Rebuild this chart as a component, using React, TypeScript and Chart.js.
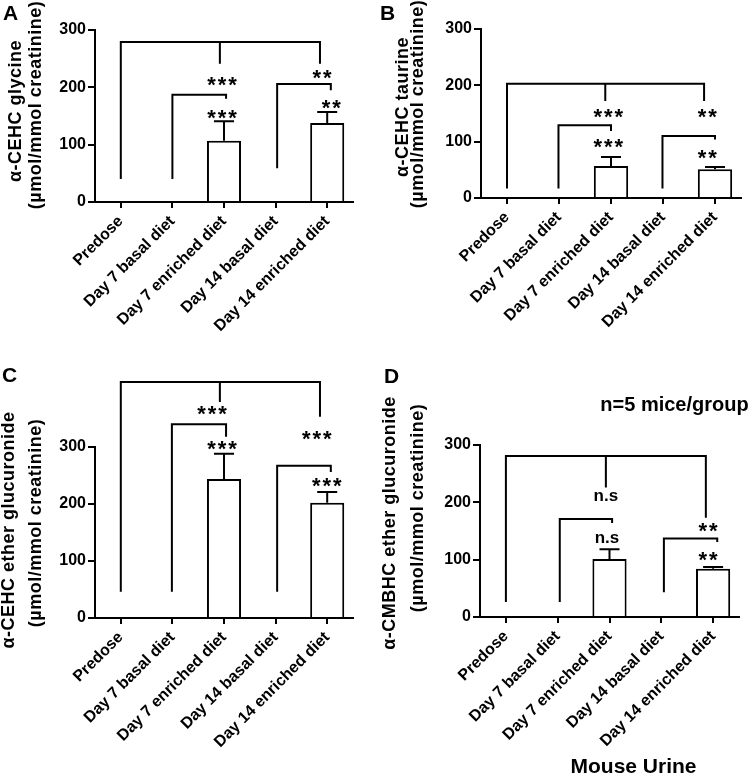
import React, { useEffect, useRef } from 'react';
import { Chart, registerables } from 'chart.js';
Chart.register(...registerables);

const FONT = "'Liberation Sans', Arial, sans-serif";

const categories = ['Predose', 'Day 7 basal diet', 'Day 7 enriched diet', 'Day 14 basal diet', 'Day 14 enriched diet'];
const yTicks = [0, 100, 200, 300];

const valuesA = [0, 0, 107, 0, 138];
const semA = [0, 0, 34, 0, 19];
const valuesB = [0, 0, 57, 0, 51];
const semB = [0, 0, 16, 0, 4];
const valuesC = [0, 0, 244, 0, 202];
const semC = [0, 0, 44, 0, 19];
const valuesD = [0, 0, 101, 0, 84];
const semD = [0, 0, 17, 0, 3];

// brackets: top value, leg positions (category index) and leg bottom values
const bracketsA = [
  { top: 279, legX: [0, 1.92, 3.86], legEnd: [40, 241, 241] },
  { top: 187, legX: [1, 2.04], legEnd: [40, 180] },
  { top: 206, legX: [3.03, 4.07], legEnd: [59, 195] },
];
const bracketsB = [
  { top: 203, legX: [0, 1.89, 3.79], legEnd: [17, 172, 172] },
  { top: 129, legX: [0.99, 2.0], legEnd: [17, 119] },
  { top: 110, legX: [2.99, 4.0], legEnd: [17, 104] },
];
const bracketsC = [
  { top: 414, legX: [0, 1.92, 3.86], legEnd: [46, 379, 353] },
  { top: 340, legX: [0.99, 2.04], legEnd: [46, 318] },
  { top: 267, legX: [3.03, 4.07], legEnd: [46, 256] },
];
const bracketsD = [
  { top: 281, legX: [0, 1.93, 3.86], legEnd: [26, 226, 173] },
  { top: 171, legX: [1.04, 2.05], legEnd: [26, 164] },
  { top: 137, legX: [3.05, 4.08], legEnd: [43, 131] },
];

// significance labels: category index, value, text
const notesA = [
  { x: 1.96, y: 214, text: '***' },
  { x: 3.9, y: 227, text: '**' },
  { x: 1.96, y: 156, text: '***' },
  { x: 4.08, y: 174, text: '**' },
];
const notesB = [
  { x: 1.95, y: 154, text: '***' },
  { x: 3.85, y: 154, text: '**' },
  { x: 1.95, y: 101, text: '***' },
  { x: 3.85, y: 81, text: '**' },
];
const notesC = [
  { x: 1.77, y: 368, text: '***' },
  { x: 3.8, y: 324, text: '***' },
  { x: 1.96, y: 307, text: '***' },
  { x: 3.99, y: 241, text: '***' },
];
const notesD = [
  { x: 1.93, y: 210, text: 'n.s' },
  { x: 3.9, y: 160, text: '**' },
  { x: 1.95, y: 137, text: 'n.s' },
  { x: 3.9, y: 109, text: '**' },
];

const unitLine = '(µmol/mmol creatinine)';

const panels = [
  {
    key: 'A', left: 0, top: 0, w: 377, h: 345,
    chartLeft: 95, chartRight: 353, chartTop: 30, chartBottom: 202,
    letterX: 3, letterY: 20,
    title: ['α-CEHC glycine', unitLine], titleBase: [21, 41], titleCenter: [111, 105],
    values: valuesA, sem: semA, brackets: bracketsA, notes: notesA, extras: [],
  },
  {
    key: 'B', left: 377, top: 0, w: 377, h: 345,
    chartLeft: 104, chartRight: 364, chartTop: 29, chartBottom: 198,
    letterX: 3, letterY: 20,
    title: ['α-CEHC taurine', unitLine], titleBase: [31, 46], titleCenter: [107, 104],
    values: valuesB, sem: semB, brackets: bracketsB, notes: notesB, extras: [],
  },
  {
    key: 'C', left: 0, top: 345, w: 377, h: 429,
    chartLeft: 95, chartRight: 353, chartTop: 102, chartBottom: 273,
    letterX: 2, letterY: 37,
    title: ['α-CEHC ether glucuronide', unitLine], titleBase: [14, 41], titleCenter: [185, 178],
    values: valuesC, sem: semC, brackets: bracketsC, notes: notesC, extras: [],
  },
  {
    key: 'D', left: 377, top: 345, w: 377, h: 429,
    chartLeft: 103, chartRight: 362, chartTop: 100, chartBottom: 272,
    letterX: 7, letterY: 38,
    title: ['α-CMBHC ether glucuronide', unitLine], titleBase: [18, 46], titleCenter: [178, 163],
    values: valuesD, sem: semD, brackets: bracketsD, notes: notesD,
    extras: [
      { text: 'n=5 mice/group', x: 297.5, y: 66, size: 20 },
      { text: 'Mouse Urine', x: 256.5, y: 428, size: 21 },
    ],
  },
];

function makeOverlay(p: any) {
  return {
    id: 'overlay' + p.key,
    afterDraw(chart: any) {
      const { ctx } = chart;
      const x = chart.scales.x;
      const y = chart.scales.y;
      ctx.save();
      ctx.strokeStyle = '#000';
      ctx.fillStyle = '#000';
      ctx.lineWidth = 2;
      ctx.lineJoin = 'miter';
      ctx.lineCap = 'butt';
      // error bars
      p.values.forEach((v: number, i: number) => {
        const e = p.sem[i];
        if (!e) return;
        const px = x.getPixelForValue(i);
        const y0 = y.getPixelForValue(v);
        const y1 = y.getPixelForValue(v + e);
        ctx.beginPath();
        ctx.moveTo(px, y0);
        ctx.lineTo(px, y1);
        ctx.moveTo(px - 10, y1);
        ctx.lineTo(px + 10, y1);
        ctx.stroke();
      });
      // brackets
      p.brackets.forEach((b: any) => {
        const yt = y.getPixelForValue(b.top);
        const xs = b.legX.map((l: number) => x.getPixelForValue(l));
        const n = xs.length;
        ctx.beginPath();
        ctx.moveTo(xs[0], y.getPixelForValue(b.legEnd[0]));
        ctx.lineTo(xs[0], yt);
        ctx.lineTo(xs[n - 1], yt);
        ctx.lineTo(xs[n - 1], y.getPixelForValue(b.legEnd[n - 1]));
        for (let k = 1; k < n - 1; k++) {
          ctx.moveTo(xs[k], yt);
          ctx.lineTo(xs[k], y.getPixelForValue(b.legEnd[k]));
        }
        ctx.stroke();
      });
      // notes
      p.notes.forEach((nt: any) => {
        const cx = x.getPixelForValue(nt.x);
        const cy = y.getPixelForValue(nt.y);
        ctx.textAlign = 'center';
        ctx.textBaseline = 'alphabetic';
        if (/^\*+$/.test(nt.text)) {
          const size = 22;
          ctx.font = `bold ${size}px ${FONT}`;
          const pitch = 10.5;
          const cnt = nt.text.length;
          for (let k = 0; k < cnt; k++) {
            ctx.fillText('*', cx + (k - (cnt - 1) / 2) * pitch, cy + 0.575 * size);
          }
        } else {
          const size = 17;
          ctx.font = `bold ${size}px ${FONT}`;
          ctx.fillText(nt.text, cx, cy + 0.27 * size);
        }
      });
      // panel letter
      ctx.textAlign = 'left';
      ctx.textBaseline = 'alphabetic';
      ctx.font = `bold 21px ${FONT}`;
      ctx.fillText(p.key, p.letterX, p.letterY);
      // extras
      p.extras.forEach((ex: any) => {
        ctx.textAlign = 'center';
        ctx.font = `bold ${ex.size}px ${FONT}`;
        ctx.fillText(ex.text, ex.x, ex.y);
      });
      // y title
      ctx.font = `bold 18px ${FONT}`;
      (ctx as any).letterSpacing = '0.5px';
      p.title.forEach((line: string, k: number) => {
        ctx.save();
        ctx.translate(p.titleBase[k], p.titleCenter[k]);
        ctx.rotate(-Math.PI / 2);
        ctx.textAlign = 'center';
        ctx.textBaseline = 'alphabetic';
        ctx.fillText(line, 0, 0);
        ctx.restore();
      });
      (ctx as any).letterSpacing = '0px';
      ctx.restore();
    },
  };
}

function Panel({ p }: { p: any }) {
  const ref = useRef<HTMLCanvasElement>(null);
  useEffect(() => {
    if (!ref.current) return;
    const chart = new Chart(ref.current, {
      type: 'bar',
      data: {
        labels: categories,
        datasets: [
          {
            data: p.values,
            backgroundColor: '#ffffff',
            borderColor: '#000000',
            borderWidth: 2,
            barPercentage: 0.66,
            categoryPercentage: 1,
          },
        ],
      },
      options: {
        responsive: false,
        animation: false,
        events: [],
        layout: { padding: { top: p.chartTop, right: p.w - p.chartRight, left: 0, bottom: 0 } },
        plugins: { legend: { display: false }, tooltip: { enabled: false }, title: { display: false } },
        scales: {
          x: {
            type: 'category',
            offset: true,
            grid: { display: true, drawOnChartArea: false, drawTicks: true, tickLength: 6, offset: false, color: '#000', lineWidth: 2 },
            border: { display: true, color: '#000', width: 2 },
            ticks: { color: '#000', font: { family: FONT, size: 16, weight: 'bold' }, minRotation: 45, maxRotation: 45, padding: 4, autoSkip: false },
            afterFit: (s: any) => { s.height = p.h - p.chartBottom; },
          },
          y: {
            min: 0,
            max: 300,
            grid: { display: true, drawOnChartArea: false, drawTicks: true, tickLength: 7, color: '#000', lineWidth: 2 },
            border: { display: true, color: '#000', width: 2 },
            ticks: { color: '#000', font: { family: FONT, size: 16, weight: 'bold' }, padding: 2, stepSize: 100 },
            afterBuildTicks: (s: any) => { s.ticks = yTicks.map((v) => ({ value: v })); },
            afterFit: (s: any) => { s.width = p.chartLeft; },
          },
        },
      } as any,
      plugins: [makeOverlay(p)],
    });
    return () => chart.destroy();
  }, [p]);
  return (
    <canvas
      ref={ref}
      width={p.w}
      height={p.h}
      style={{ position: 'absolute', left: p.left, top: p.top, width: p.w, height: p.h }}
    />
  );
}

export default function App() {
  return (
    <div style={{ position: 'absolute', left: 0, top: 0, width: 754, height: 774, background: '#fff', overflow: 'hidden' }}>
      {panels.map((p) => (
        <Panel key={p.key} p={p} />
      ))}
    </div>
  );
}
